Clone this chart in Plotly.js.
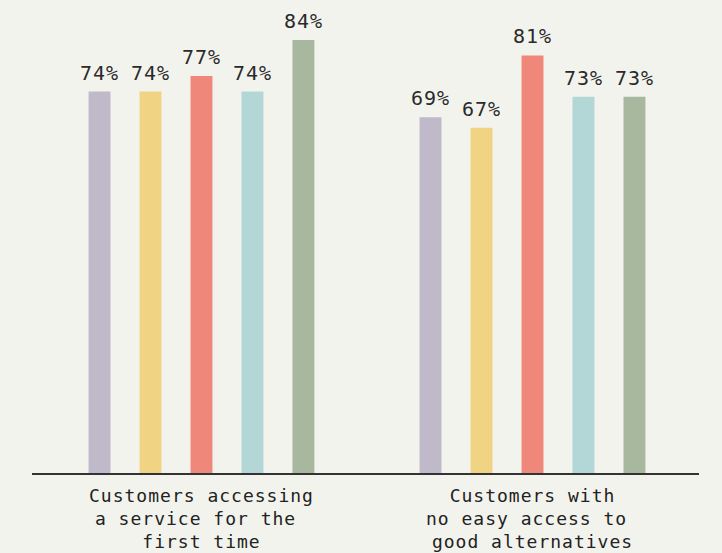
<!DOCTYPE html>
<html>
<head>
<meta charset="utf-8">
<script src="https://cdn.plot.ly/plotly-3.0.1.min.js"></script>
<style>
  html, body { margin: 0; padding: 0; background: #f3f3ee; }
  #chart { width: 722px; height: 553px; }
  .xtick text, .annotation-text { letter-spacing: 1px; }
</style>
</head>
<body>
<div id="chart"></div>
<script>
const categories = [
  "Customers accessing<br>a service for the\u00a0<br>first time",
  "Customers with<br>no easy access to\u00a0<br>good alternatives"
];
const seriesNames = ["Series A", "Series B", "Series C", "Series D", "Series E"];
const seriesA = [74, 69];
const seriesB = [74, 67];
const seriesC = [77, 81];
const seriesD = [74, 73];
const seriesE = [84, 73];
const colors = ["#bfb9ca", "#f1d483", "#f0877b", "#b3d6d6", "#a7b89f"];

const allSeries = [seriesA, seriesB, seriesC, seriesD, seriesE];
const bargap = 0.23;
const font = "DejaVu Sans Mono, Liberation Mono, monospace";

const traces = allSeries.map((vals, i) => ({
  type: "bar",
  name: seriesNames[i],
  x: categories,
  y: vals,
  marker: { color: colors[i] },
  hoverinfo: "none"
}));

// value labels above each bar (positions derived from bar grouping)
const annotations = [];
const groupW = 1 - bargap;
const slot = groupW / allSeries.length;
allSeries.forEach((vals, i) => {
  vals.forEach((v, ci) => {
    annotations.push({
      x: ci - groupW / 2 + slot * (i + 0.5),
      y: v,
      xref: "x",
      yref: "y",
      text: v + "%",
      showarrow: false,
      yanchor: "bottom",
      yshift: 5,
      font: { family: font, size: 20, color: "#2a2a2a" }
    });
  });
});

const layout = {
  width: 722,
  height: 553,
  paper_bgcolor: "#f3f3ee",
  plot_bgcolor: "#f3f3ee",
  margin: { l: 32, r: 23, t: 0, b: 80 },
  barmode: "group",
  bargap: bargap,
  bargroupgap: 0.57,
  showlegend: false,
  xaxis: {
    type: "category",
    range: [-0.512, 1.503],
    showline: true,
    linecolor: "#333333",
    linewidth: 2,
    ticks: "",
    ticklabelstandoff: 5,
    showgrid: false,
    zeroline: false,
    tickfont: { family: font, size: 18, color: "#222222" }
  },
  yaxis: {
    range: [0, 91.76],
    visible: false,
    showgrid: false,
    zeroline: false
  },
  annotations: annotations
};

Plotly.newPlot("chart", traces, layout, { displayModeBar: false, staticPlot: true });
</script>
</body>
</html>
